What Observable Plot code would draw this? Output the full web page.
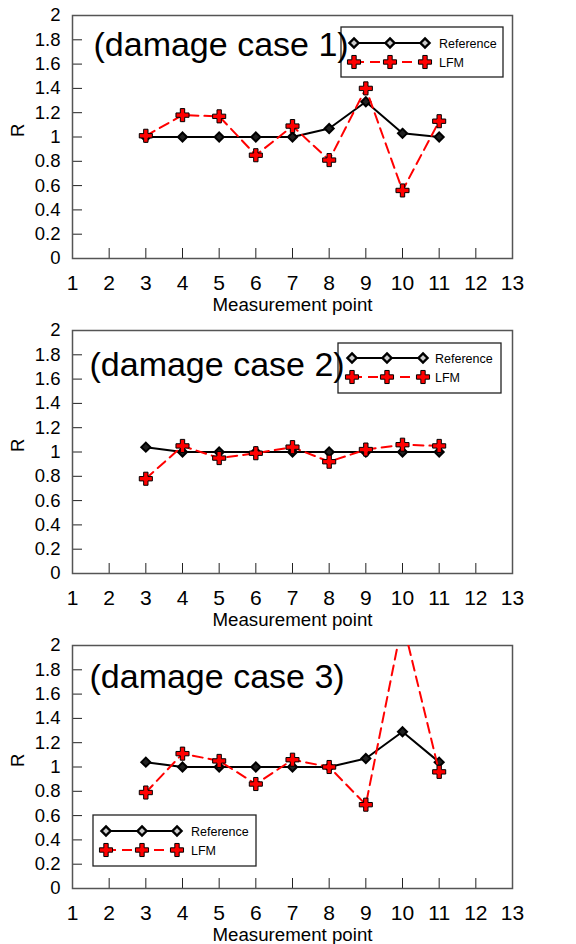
<!DOCTYPE html>
<html><head><meta charset="utf-8">
<script src="https://cdn.jsdelivr.net/npm/d3@7"></script>
<script src="https://cdn.jsdelivr.net/npm/@observablehq/plot@0.6"></script>
<style>body{margin:0;background:#fff} svg{display:block}</style>
</head><body><div id="chart"></div>
<script>
// ---- data ----
const points = [3, 4, 5, 6, 7, 8, 9, 10, 11];
const ref1 = [1.00, 1.00, 1.00, 1.00, 1.00, 1.07, 1.29, 1.03, 1.00];
const lfm1 = [1.01, 1.18, 1.17, 0.85, 1.09, 0.81, 1.40, 0.56, 1.13];
const ref2 = [1.04, 1.00, 1.00, 1.00, 1.00, 1.00, 1.00, 1.00, 1.00];
const lfm2 = [0.78, 1.05, 0.95, 0.99, 1.04, 0.92, 1.02, 1.06, 1.05];
const ref3 = [1.04, 1.00, 1.00, 1.00, 1.00, 1.00, 1.07, 1.29, 1.04];
const lfm3 = [0.79, 1.11, 1.05, 0.86, 1.06, 1.00, 0.69, 2.20, 0.96];
const xTicks = [1, 2, 3, 4, 5, 6, 7, 8, 9, 10, 11, 12, 13];
const yTicks = [0, 0.2, 0.4, 0.6, 0.8, 1, 1.2, 1.4, 1.6, 1.8, 2];
const seriesNames = ["Reference", "LFM"];
const caseTitles = ["(damage case 1)", "(damage case 2)", "(damage case 3)"];
const xLabel = "Measurement point";
const yLabel = "R";

// ---- styling / layout ----
const FONT = "'Liberation Sans', Arial, Helvetica, sans-serif";
const DIAMOND_R = 4.1, CROSS_R = 5.5;
const DASH = "10,6";
const fmt = d3.format("~g");
const panels = [
  {title: caseTitles[0], ref: ref1, lfm: lfm1, tdx: 21, tdy: 40,
   legend: {x: 341, y: 27, w: 162, h: 50, r1: 43, r2: 62, mx: [354, 390, 425], tx: 439}},
  {title: caseTitles[1], ref: ref2, lfm: lfm2, tdx: 17, tdy: 45,
   legend: {x: 338, y: 28, w: 163, h: 50, r1: 43, r2: 62, mx: [352, 387, 423], tx: 435}},
  {title: caseTitles[2], ref: ref3, lfm: lfm3, tdx: 17, tdy: 42,
   legend: {x: 93, y: 185, w: 163, h: 51, r1: 201, r2: 220, mx: [106, 142, 177], tx: 191}}
];

function drawLegend(svg, L) {
  const g = d3.select(svg).insert("g", "g").attr("font-family", FONT).attr("text-anchor", "start");
  g.append("rect").attr("x", L.x).attr("y", L.y).attr("width", L.w).attr("height", L.h)
    .attr("fill", "white").attr("stroke", "#222").attr("stroke-width", 1.3);
  const dia = d3.symbol(d3.symbolDiamond2, DIAMOND_R * DIAMOND_R * Math.PI)();
  const cro = d3.symbol(d3.symbolCross, CROSS_R * CROSS_R * Math.PI)();
  // Reference row
  g.append("line").attr("x1", L.mx[0]).attr("x2", L.mx[2]).attr("y1", L.r1).attr("y2", L.r1)
    .attr("stroke", "black").attr("stroke-width", 2);
  L.mx.forEach(mx => g.append("path").attr("d", dia).attr("transform", `translate(${mx},${L.r1})`)
    .attr("fill", "#ccc").attr("stroke", "black").attr("stroke-width", 2.4));
  g.append("text").attr("x", L.tx).attr("y", L.r1).attr("dy", "0.36em").attr("font-size", 12.5)
    .attr("text-anchor", "start").attr("fill", "black").text(seriesNames[0]);
  // LFM row
  g.append("line").attr("x1", L.mx[0]).attr("x2", L.mx[2]).attr("y1", L.r2).attr("y2", L.r2)
    .attr("stroke", "#f00").attr("stroke-width", 2).attr("stroke-dasharray", DASH);
  L.mx.forEach(mx => g.append("path").attr("d", cro).attr("transform", `translate(${mx},${L.r2})`)
    .attr("fill", "#f00").attr("stroke", "black").attr("stroke-width", 1));
  g.append("text").attr("x", L.tx).attr("y", L.r2).attr("dy", "0.36em").attr("font-size", 12.5)
    .attr("text-anchor", "start").attr("fill", "black").text(seriesNames[1]);
}

function makePanel(p) {
  const rows = vals => points.map((x, i) => ({x, y: vals[i]}));
  const ref = rows(p.ref), lfm = rows(p.lfm);
  const svg = Plot.plot({
    width: 576, height: 315,
    marginTop: 15, marginBottom: 57, marginLeft: 72, marginRight: 64,
    style: {fontFamily: FONT, background: "white", color: "black"},
    x: {domain: [1, 13]},
    y: {domain: [0, 2]},
    marks: [
      Plot.axisX(xTicks, {tickSize: -10, fill: "none", stroke: "#222", label: null}),
      Plot.axisX(xTicks, {tickSize: 0, tickPadding: 16.5, fontSize: 21, fill: "black", label: null, tickFormat: fmt}),
      Plot.axisY(yTicks, {tickSize: -10, fill: "none", stroke: "#222", label: null}),
      Plot.axisY(yTicks, {tickSize: 0, tickPadding: 12, fontSize: 18.5, fill: "black", label: null, tickFormat: fmt}),
      Plot.frame({stroke: "#555", strokeWidth: 1.5}),
      Plot.line(ref, {x: "x", y: "y", stroke: "black", strokeWidth: 2, clip: true}),
      Plot.dot(ref, {x: "x", y: "y", symbol: "diamond2", r: DIAMOND_R, fill: "#222", stroke: "black", strokeWidth: 2, clip: true}),
      Plot.line(lfm, {x: "x", y: "y", stroke: "#f00", strokeWidth: 2, strokeDasharray: DASH, clip: true}),
      Plot.dot(lfm, {x: "x", y: "y", symbol: "cross", r: CROSS_R, fill: "#f00", stroke: "black", strokeWidth: 1, clip: true}),
      Plot.text([xLabel], {text: d => d, frameAnchor: "bottom", dy: 52, lineAnchor: "bottom", fontSize: 18.7, fill: "black"}),
      Plot.text([yLabel], {text: d => d, frameAnchor: "left", dx: -54, rotate: -90, fontSize: 18.7, fill: "black"}),
      Plot.text([p.title], {text: d => d, frameAnchor: "top-left", dx: p.tdx, dy: p.tdy, textAnchor: "start", lineAnchor: "bottom", fontSize: 34, fill: "black"})
    ]
  });
  drawLegend(svg, p.legend);
  return svg;
}

const root = document.getElementById("chart");
panels.forEach(p => root.appendChild(makePanel(p)));
</script>
</body></html>
